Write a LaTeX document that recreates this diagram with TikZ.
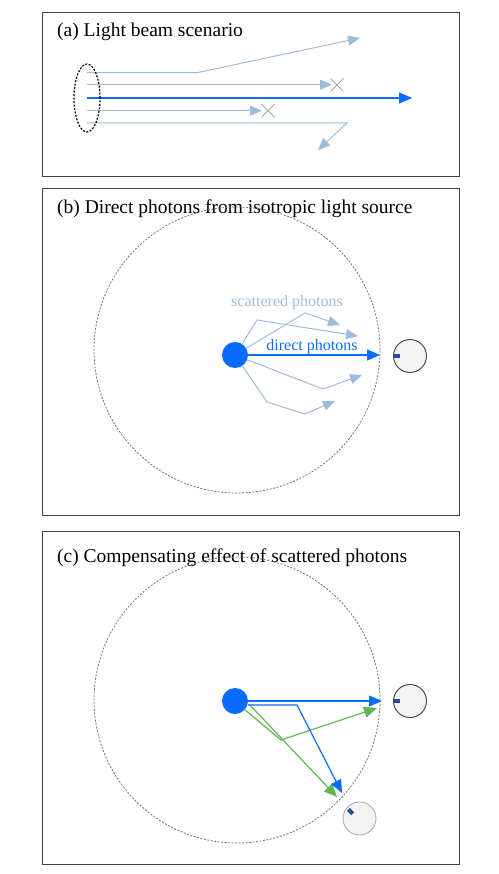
\documentclass[tikz,border=0pt]{standalone}
\usepackage{fontspec}
\setmainfont{Liberation Serif}
\usetikzlibrary{arrows.meta,shapes.geometric}
\definecolor{lightray}{HTML}{9DBCDC}
\definecolor{beam}{HTML}{0A6CFF}
\definecolor{greenray}{HTML}{5DB94E}
\definecolor{xgray}{HTML}{A8A8A8}
\definecolor{detfill}{HTML}{F3F3F3}
\definecolor{markblue}{HTML}{1E4FA8}
\begin{document}
\begin{tikzpicture}[x=1pt,y=-1pt,
  panel/.style={draw=black!75, line width=0.9pt},
  title/.style={anchor=base west, font=\fontsize{19.5}{22}\selectfont, inner sep=0pt},
  lbl/.style={font=\fontsize{16}{18}\selectfont, inner sep=0pt, anchor=base},
  ray/.style={draw=lightray, line width=1pt, -{Triangle[length=12pt,width=10pt]}},
  bluray/.style={draw=beam, line width=1.2pt, -{Triangle[length=13pt,width=11pt]}},
  grnray/.style={draw=greenray, line width=1.2pt, -{Triangle[length=13pt,width=11pt]}},
  xmark/.style={draw=xgray, line width=0.9pt},
  bigcirc/.style={draw=black!55, line width=0.8pt, dash pattern=on 2pt off 1.5pt},
  source/.style={circle, fill=beam, minimum size=26pt, inner sep=0pt},
  detector/.style={circle, draw=black!70, line width=1pt, fill=detfill, minimum size=33pt, inner sep=0pt},
  detector2/.style={circle, draw=black!35, line width=0.8pt, fill=detfill, minimum size=33pt, inner sep=0pt},
  sensor/.style={rectangle, fill=markblue, minimum width=6pt, minimum height=4pt, inner sep=0pt},
]
\useasboundingbox (0,0) rectangle (498,874);

% ---------------- panel (a)
\draw[panel] (42,12) rectangle (459,176);
\node[title] (ta) at (57,36.5) {(a) Light beam scenario};
\coordinate (a1s) at (87,72.7);  \coordinate (a1b) at (197,72.7); \coordinate (a1e) at (360,38);
\coordinate (a2s) at (87,84.7);  \coordinate (a2e) at (332,84.7);
\coordinate (a3s) at (87,98);    \coordinate (a3e) at (412,98);
\coordinate (a4s) at (87,110.7); \coordinate (a4e) at (262,110.7);
\coordinate (a5s) at (87,123);   \coordinate (a5b) at (347,123); \coordinate (a5e) at (318,150);
\draw[ray] (a1s) -- (a1b) -- (a1e);
\draw[ray] (a2s) -- (a2e);
\draw[ray] (a4s) -- (a4e);
\draw[ray] (a5s) -- (a5b) -- (a5e);
\draw[bluray, line width=1.5pt] (a3s) -- (a3e);
\coordinate (x1) at (337,85);
\coordinate (x2) at (268,110.7);
\draw[xmark] ([shift={(-6.5,-6.5)}]x1) -- ([shift={(6.5,6.5)}]x1);
\draw[xmark] ([shift={(-6.5,6.5)}]x1) -- ([shift={(6.5,-6.5)}]x1);
\draw[xmark] ([shift={(-6.5,-6.5)}]x2) -- ([shift={(6.5,6.5)}]x2);
\draw[xmark] ([shift={(-6.5,6.5)}]x2) -- ([shift={(6.5,-6.5)}]x2);
\node[ellipse, draw=black, line width=1.2pt, dash pattern=on 2pt off 1.5pt,
      minimum width=26pt, minimum height=68pt, inner sep=0pt] (lens) at (87,98) {};

% ---------------- panel (b)
\draw[panel] (42,188) rectangle (459,515);
\node[title] (tb) at (57,213.5) {(b) Direct photons from isotropic light source};
\node[circle, bigcirc, minimum size=286pt, inner sep=0pt] (sphb) at (237,350) {};
\node[source] (srcb) at (235,355) {};
\node[detector] (detb) at (410,356) {};
\node[sensor] (senb) at (397,356) {};
\coordinate (s1b) at (257,320); \coordinate (s1e) at (358,336);
\coordinate (s2b) at (305,313); \coordinate (s2e) at (340,325);
\coordinate (s3b) at (323,389); \coordinate (s3e) at (362,375);
\coordinate (s4b) at (267,402); \coordinate (s4c) at (305,414); \coordinate (s4e) at (335,401);
\draw[ray] (srcb) -- (s1b) -- (s1e);
\draw[ray] (srcb) -- (s2b) -- (s2e);
\draw[ray] (srcb) -- (s3b) -- (s3e);
\draw[ray] (srcb) -- (s4b) -- (s4c) -- (s4e);
\coordinate (dbe) at (380,355);
\draw[bluray, line width=1.5pt] (srcb) -- (dbe);
\node[lbl, text=lightray] (lscat) at (287,306) {scattered photons};
\node[lbl, text=beam] (ldir) at (312,350) {direct photons};

% ---------------- panel (c)
\draw[panel] (42,531) rectangle (459,864);
\node[title] (tc) at (57,562) {(c) Compensating effect of scattered photons};
\node[circle, bigcirc, minimum size=286pt, inner sep=0pt] (sphc) at (237,700) {};
\node[source] (srcc) at (235,701) {};
\node[detector] (detc1) at (410,701) {};
\node[sensor] (senc1) at (397,701) {};
\node[detector2] (detc2) at (359.5,818.5) {};
\node[sensor, rotate=135, minimum width=6pt, minimum height=4pt] (senc2) at (350.5,811.5) {};
\coordinate (c1e) at (382,701);
\coordinate (c2s) at (248,705); \coordinate (c2b) at (297,705); \coordinate (c2e) at (342,793);
\coordinate (g1s) at (244,709); \coordinate (g1b) at (281,740); \coordinate (g1e) at (377,708);
\coordinate (g2s) at (249,704); \coordinate (g2e) at (337,797);
\draw[grnray] (g1s) -- (g1b) -- (g1e);
\draw[grnray] (g2s) -- (g2e);
\draw[bluray] (srcc.east) -- (c1e);
\draw[bluray] (c2s) -- (c2b) -- (c2e);
\end{tikzpicture}
\end{document}
